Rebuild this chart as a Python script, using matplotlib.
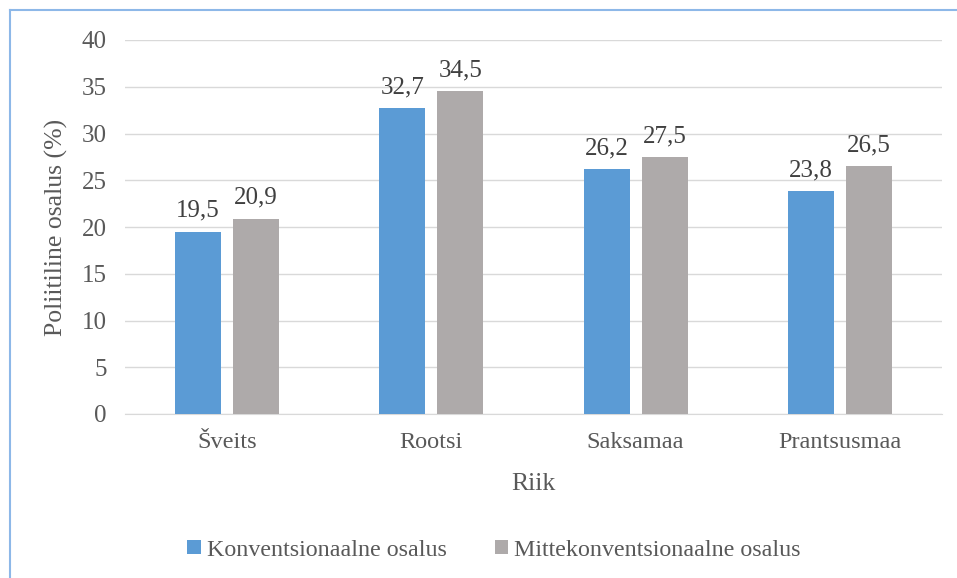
import numpy as np
import matplotlib.pyplot as plt
from matplotlib.lines import Line2D

# data
countries = ["Šveits", "Rootsi", "Saksamaa", "Prantsusmaa"]
konventsionaalne = [19.5, 32.7, 26.2, 23.8]
mittekonventsionaalne = [20.9, 34.5, 27.5, 26.5]
series_names = ["Konventsionaalne osalus", "Mittekonventsionaalne osalus"]

plt.rcParams['font.family'] = ['Liberation Serif', 'DejaVu Serif']
text_color = "#595959"

fig = plt.figure(figsize=(9.57, 5.78), dpi=100)
ax = fig.add_axes([125 / 957, 1 - 414 / 578, (942 - 125) / 957, (414 - 40) / 578])

x = np.arange(len(countries))
width = 0.225
offset = 0.142
b1 = ax.bar(x - offset, konventsionaalne, width, color="#5B9BD5", label=series_names[0], zorder=3)
b2 = ax.bar(x + offset, mittekonventsionaalne, width, color="#AEAAAA", label=series_names[1], zorder=3)
for rects in (b1, b2):
    labels = [f"{v:.1f}".replace(".", ",") for v in rects.datavalues]
    ax.bar_label(rects, labels=labels, padding=7, fontsize=18, color="#404040")

ax.set_xlim(-0.5, len(countries) - 0.5)
ax.set_ylim(0, 40)
ax.set_yticks(range(0, 41, 5))
ax.set_xticks(x, countries)
ax.grid(axis='y', color="#D9D9D9", linewidth=1, zorder=0)
for s in ["top", "right", "left"]:
    ax.spines[s].set_visible(False)
ax.spines["bottom"].set_color("#D9D9D9")
ax.tick_params(axis='both', length=0, colors=text_color)
ax.tick_params(axis='y', pad=13, labelsize=18)
ax.tick_params(axis='x', pad=13, labelsize=17.5)
ax.set_xlabel("Riik", fontsize=18.5, color=text_color, labelpad=14)
ax.set_ylabel("Poliitiline osalus (%)", fontsize=18.5, color=text_color, labelpad=10)

leg = fig.legend(loc='center', bbox_to_anchor=(0.516, 1 - 550 / 578), ncols=2, frameon=False,
                 fontsize=17.3, handlelength=0.55, handleheight=0.55, handletextpad=0.25, columnspacing=2.0)
for t in leg.get_texts():
    t.set_color(text_color)

# light blue frame on the left and top
fig.add_artist(Line2D([10 / 957, 10 / 957], [0, 1 - 10 / 578], color="#8DB8E8", linewidth=1.5))
fig.add_artist(Line2D([10 / 957, 1], [1 - 10 / 578, 1 - 10 / 578], color="#8DB8E8", linewidth=1.5))

fig.savefig("out.png", dpi=100)
